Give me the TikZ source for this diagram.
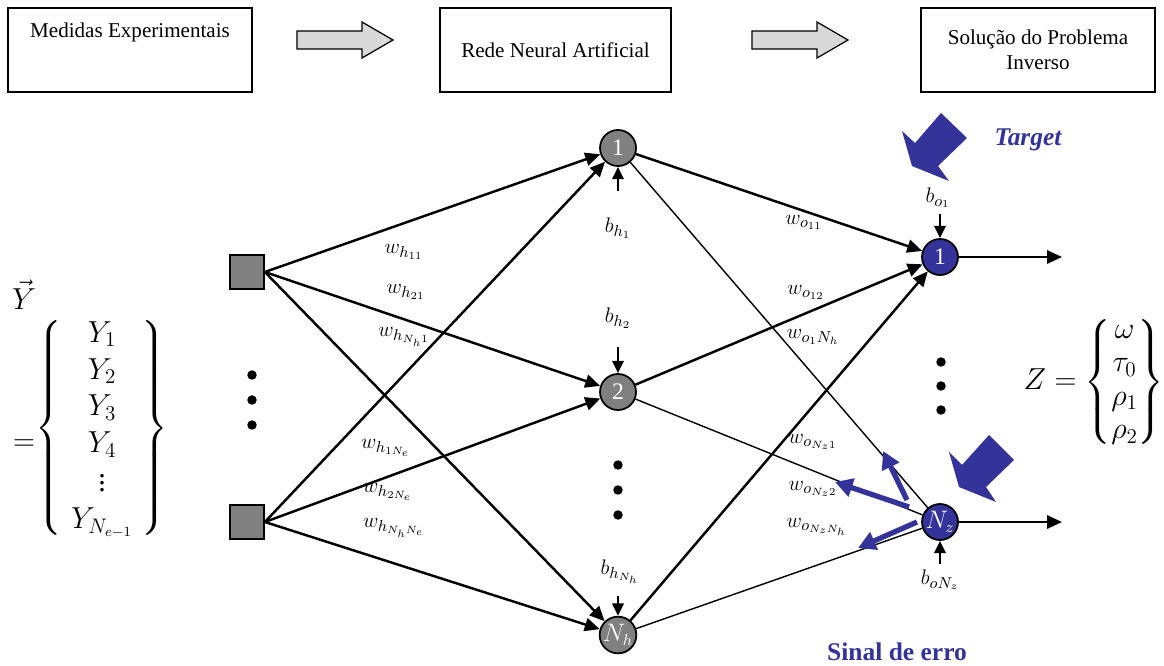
\documentclass[tikz,border=0pt]{standalone}
\usepackage{amsmath, amssymb}
\usepackage{fontspec}
\setmainfont{Liberation Serif}
\usepackage{xcolor}
\usetikzlibrary{arrows.meta}

\definecolor{netblue}{RGB}{51,51,153}
\definecolor{netgray}{RGB}{128,128,128}
\definecolor{flowgray}{RGB}{217,217,217}

\begin{document}
\begin{tikzpicture}[x=0.02cm, y=-0.02cm,
    stagebox/.style={draw, line width=0.7pt, minimum height=1.68cm},
    inunit/.style={draw, line width=1pt, fill=netgray, minimum size=0.68cm},
    hidunit/.style={circle, draw, line width=1pt, fill=netgray, text=white, minimum size=0.72cm, inner sep=0pt, font=\fontsize{13.5}{14}\selectfont},
    outunit/.style={hidunit, fill=netblue},
    wire/.style={line width=1.4pt, -{Triangle[length=8.5pt,width=7.5pt]}},
    thinwire/.style={line width=0.8pt},
    biasarrow/.style={line width=1.2pt, -{Triangle[length=7pt,width=6.5pt]}},
    errarrow/.style={netblue, line width=3pt, -{Triangle[length=10pt,width=10.5pt]}},
    wlabel/.style={font=\fontsize{13}{14}\selectfont},
    blabel/.style={font=\fontsize{13}{14}\selectfont},
    mathbig/.style={font=\fontsize{17}{21}\selectfont}]

    \useasboundingbox (0,0) rectangle (1164,666);

    % Flow of the method
    \node[stagebox, minimum width=4.88cm] (meas) at (130,50) {};
    \node[font=\fontsize{12}{14}\selectfont] at (130,32) {Medidas Experimentais};
    \node[stagebox, minimum width=4.62cm, font=\fontsize{12}{14}\selectfont] (ann) at (555.5,50) {Rede Neural Artificial};
    \node[stagebox, minimum width=4.68cm, align=center, font=\fontsize{12}{14}\selectfont] (sol) at (1038,50) {Solução do Problema\\Inverso};

    \filldraw[fill=flowgray, line width=0.7pt] (297,31) -- (362,31) -- (362,22) -- (393,40) -- (362,58) -- (362,49) -- (297,49) -- cycle;
    \filldraw[fill=flowgray, line width=0.7pt] (752,31) -- (817,31) -- (817,22) -- (848,40) -- (817,58) -- (817,49) -- (752,49) -- cycle;

    % Input vector
    \node[mathbig] (yvec) at (24,295) {$\vec{Y}$};
    \node[mathbig] (yeq) at (24,445) {$=$};
    \node[mathbig] (ylist) at (102,428) {$\left\{\begin{array}{c} Y_1\\ Y_2\\ Y_3\\ Y_4\\ \vdots\\ Y_{N_{e-1}}\end{array}\right\}$};

    % Units of the network
    \node[inunit] (x1) at (247,272) {};
    \node[inunit] (x2) at (247,522) {};
    \node[hidunit] (h1) at (618,148) {1};
    \node[hidunit] (h2) at (618,392) {2};
    \node[hidunit] (h3) at (618,635) {$N_h$};
    \node[outunit] (o1) at (940,257) {1};
    \node[outunit] (o2) at (940,522) {$N_z$};

    % Dots for the omitted units
    \foreach \y in {375,400,425} \fill (252,\y) circle (2.7pt);
    \foreach \y in {465,490,515} \fill (618,\y) circle (2.7pt);
    \foreach \y in {362,386,410} \fill (941,\y) circle (2.7pt);

    % Input to hidden
    \foreach \i in {x1,x2}
        \foreach \h in {h1,h2,h3}
            \draw[wire] (\i.east) -- (\h);

    % Hidden to output
    \foreach \h in {h1,h2,h3} {
        \draw[wire] (\h) -- (o1);
        \draw[thinwire] (\h) -- (o2);
    }

    % Network outputs
    \coordinate (z1) at (1062,257);
    \coordinate (z2) at (1062,522);
    \draw[wire] (o1) -- (z1);
    \draw[wire] (o2) -- (z2);

    % Biases
    \coordinate (bh1) at (618,191);
    \coordinate (bh2) at (618,347);
    \coordinate (bh3) at (618,596);
    \coordinate (bo1) at (940,214);
    \coordinate (bo2) at (940,564);
    \draw[biasarrow] (bh1) -- (h1);
    \draw[biasarrow] (bh2) -- (h2);
    \draw[biasarrow] (bh3) -- (h3);
    \draw[biasarrow] (bo1) -- (o1);
    \draw[biasarrow] (bo2) -- (o2);
    \node[blabel] (lbh1) at (618,228) {$b_{h_1}$};
    \node[blabel] (lbh2) at (618,318) {$b_{h_2}$};
    \node[blabel] (lbh3) at (620,572) {$b_{h_{N_h}}$};
    \node[blabel] (lbo1) at (938,198) {$b_{o_1}$};
    \node[blabel] (lbo2) at (940,580) {$b_{oN_z}$};

    % Weights
    \node[wlabel] at (404,252) {$w_{h_{11}}$};
    \node[wlabel] at (406,292) {$w_{h_{21}}$};
    \node[wlabel] at (404,337) {$w_{h_{N_h1}}$};
    \node[wlabel] at (386,448) {$w_{h_{1N_e}}$};
    \node[wlabel] at (388,492) {$w_{h_{2N_e}}$};
    \node[wlabel] at (394,528) {$w_{h_{N_hN_e}}$};
    \node[wlabel] at (804,222) {$w_{o_{11}}$};
    \node[wlabel] at (806,292) {$w_{o_{12}}$};
    \node[wlabel] at (813,337) {$w_{o_1N_h}$};
    \node[wlabel] at (813,442) {$w_{o_{N_z1}}$};
    \node[wlabel] at (813,489) {$w_{o_{N_z2}}$};
    \node[wlabel] at (817,527) {$w_{o_{N_zN_h}}$};

    % Target arrows
    \fill[netblue] (941,113) -- (967,138) -- (938,166) -- (949,181) -- (912,166) -- (902,131) -- (915,143) -- cycle;
    \fill[netblue] (989,435) -- (1014,460) -- (986,487) -- (996,502) -- (959,487) -- (949,452) -- (962,465) -- cycle;
    \node[netblue, font=\fontsize{14.5}{16}\bfseries\itshape] (target) at (1028,140) {Target};

    % Error signal
    \coordinate (e1s) at (907,500);
    \coordinate (e1t) at (883,451);
    \coordinate (e2s) at (909,507);
    \coordinate (e2t) at (835,482);
    \coordinate (e3s) at (917,522);
    \coordinate (e3t) at (858,548);
    \draw[errarrow] (e1s) -- (e1t);
    \draw[errarrow] (e2s) -- (e2t);
    \draw[errarrow] (e3s) -- (e3t);
    \node[netblue, font=\fontsize{14.5}{16}\bfseries] (erro) at (897,652) {Sinal de erro};

    % Output vector
    \node[mathbig, font=\fontsize{17}{19}\selectfont] (zvec) at (1094,382) {$Z=\left\{\begin{matrix}\omega\\ \tau_0\\ \rho_1\\ \rho_2\end{matrix}\right\}$};
\end{tikzpicture}
\end{document}
